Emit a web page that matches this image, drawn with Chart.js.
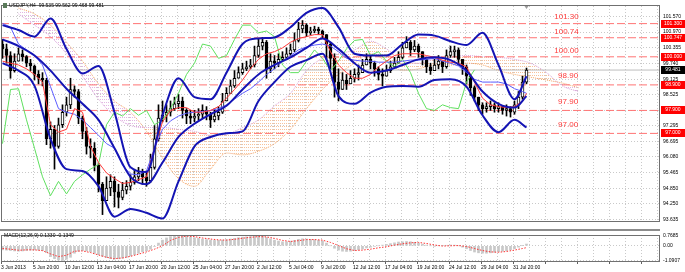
<!DOCTYPE html>
<html>
<head>
<meta charset="utf-8">
<script src="https://cdn.jsdelivr.net/npm/chart.js@4.4.0/dist/chart.umd.min.js"></script>
<style>
  html, body { margin: 0; padding: 0; background: #fff; }
  #wrap { position: relative; width: 685px; height: 272px; overflow: hidden; background: #fff; }
  #priceChart { position: absolute; left: 0; top: 0; width: 685px; height: 228px; }
  #macdChart { position: absolute; left: 0; top: 229px; width: 685px; height: 43px; }
</style>
</head>
<body>
<div id="wrap">
  <canvas id="priceChart" width="685" height="228"></canvas>
  <canvas id="macdChart" width="685" height="43"></canvas>
</div>
<script>
// USDJPY H4, one slot = two H4 bars
const dateLabels = ["3 Jun 2013", "5 Jun 20:00", "10 Jun 12:00", "13 Jun 04:00", "17 Jun 20:00", "20 Jun 12:00",
  "25 Jun 04:00", "27 Jun 20:00", "2 Jul 12:00", "5 Jul 04:00", "9 Jul 20:00", "12 Jul 12:00",
  "17 Jul 04:00", "19 Jul 20:00", "24 Jul 12:00", "29 Jul 04:00", "31 Jul 20:00"];
const priceTicks = [101.570, 100.970, 100.355, 99.740, 99.125, 98.525, 97.910, 97.295, 96.695, 96.080, 95.465, 94.850, 94.250, 93.635];
const macdTicks = [0.7685, 0, -1.0907];
const levels = [101.30, 100.747, 100.00, 98.90, 97.90, 97.00];
const levelNames = ["101.30", "100.74", "100.00", "98.90", "97.90", "97.00"];
const lastPrice = 99.481;
const headerText = "USDJPY,H4  99.535 99.562 99.468 99.481";
const macdText = "MACD(12,26,9) 0.1330 -0.1349";

const firstOpen = 100.50;
const close = [100.31, 100.05, 99.46, 99.83, 100.12, 100.01, 99.75, 99.64, 99.31, 99.16,
  99.09, 96.79, 97.16, 96.49, 97.34, 97.83, 98.12, 98.72, 98.64, 97.60,
  97.08, 96.49, 96.42, 95.75, 95.01, 94.37, 94.86, 95.12, 94.71, 94.49,
  94.78, 94.93, 95.08, 95.30, 95.45, 95.30, 95.15, 95.67, 96.79, 97.60,
  97.71, 97.83, 97.97, 98.16, 98.27, 97.90, 97.68, 97.60, 97.68, 97.75,
  97.90, 97.75, 97.53, 97.68, 97.83, 98.27, 98.57, 98.86, 99.16, 99.38,
  99.53, 99.61, 99.68, 100.05, 100.42, 100.57, 99.53, 99.83, 99.75, 99.90,
  99.98, 100.12, 100.27, 100.64, 101.09, 101.24, 100.94, 101.01, 101.09, 101.01,
  100.87, 100.50, 99.94, 99.01, 98.72, 99.09, 98.94, 99.16, 99.31, 99.38,
  99.68, 99.90, 99.75, 99.53, 99.31, 99.24, 99.46, 99.61, 99.75, 99.98,
  100.35, 100.57, 100.27, 100.42, 100.20, 99.90, 99.61, 99.46, 99.68, 99.83,
  99.61, 100.05, 100.20, 100.27, 99.90, 99.61, 99.24, 98.79, 98.42, 98.12,
  97.97, 98.05, 98.12, 97.97, 98.05, 97.90, 97.97, 97.83, 98.12, 98.42,
  99.01, 99.48];
const high = [100.68, 100.50, 100.20, 100.12, 100.35, 100.27, 100.05, 99.90, 99.68, 99.46,
  99.38, 99.16, 97.45, 97.31, 97.60, 98.12, 98.42, 99.16, 98.86, 98.72,
  97.68, 97.23, 96.79, 96.64, 95.82, 95.08, 95.30, 95.38, 95.30, 95.01,
  95.08, 95.15, 95.38, 95.60, 95.67, 95.60, 95.53, 96.19, 97.31, 98.12,
  98.27, 98.12, 98.27, 98.42, 98.53, 98.42, 97.97, 97.90, 97.90, 97.97,
  98.12, 98.05, 97.83, 97.97, 98.05, 98.57, 98.79, 99.09, 99.46, 99.61,
  99.75, 99.83, 99.90, 100.42, 100.72, 100.76, 100.64, 100.12, 100.05, 100.12,
  100.20, 100.35, 100.50, 100.94, 101.35, 101.42, 101.30, 101.16, 101.20, 101.16,
  101.05, 100.87, 100.57, 100.12, 99.53, 99.38, 99.31, 99.46, 99.53, 99.68,
  99.90, 100.12, 100.05, 99.83, 99.61, 99.53, 99.68, 99.83, 99.98, 100.20,
  100.57, 100.79, 100.64, 100.64, 100.50, 100.20, 99.90, 99.75, 99.90, 100.05,
  99.83, 100.27, 100.42, 100.42, 100.35, 99.90, 99.68, 99.30, 98.86, 98.42,
  98.20, 98.20, 98.27, 98.20, 98.20, 98.05, 98.12, 98.05, 98.27, 98.64,
  99.24, 99.56];
const low = [99.94, 99.75, 99.16, 99.40, 99.83, 99.83, 99.61, 99.46, 99.09, 98.94,
  98.86, 96.56, 96.42, 95.60, 96.42, 97.23, 97.68, 97.97, 98.42, 97.38,
  96.79, 96.19, 96.04, 95.53, 94.71, 93.82, 94.37, 94.56, 94.12, 94.08,
  94.40, 94.63, 94.78, 95.01, 95.15, 95.01, 94.93, 95.08, 95.60, 96.70,
  97.45, 97.45, 97.68, 97.90, 97.97, 97.60, 97.38, 97.38, 97.45, 97.53,
  97.60, 97.53, 97.23, 97.45, 97.53, 97.78, 98.27, 98.57, 98.80, 99.16,
  99.31, 99.46, 99.53, 99.60, 99.98, 100.27, 99.16, 99.38, 99.53, 99.61,
  99.83, 99.90, 100.05, 100.20, 100.58, 100.94, 100.79, 100.87, 100.94, 100.87,
  100.72, 99.90, 99.53, 98.42, 98.27, 98.72, 98.72, 98.94, 99.01, 99.09,
  99.38, 99.68, 99.53, 99.24, 99.09, 98.86, 99.24, 99.38, 99.61, 99.75,
  99.92, 100.35, 100.05, 100.20, 99.98, 99.68, 99.38, 99.31, 99.46, 99.53,
  99.38, 99.55, 99.98, 99.98, 99.68, 99.31, 98.94, 98.49, 98.27, 97.90,
  97.75, 97.83, 97.90, 97.83, 97.83, 97.75, 97.68, 97.64, 97.75, 97.97,
  98.34, 98.94];

// bands, every 4th slot
const bbUpper = [101.24, 101.05, 100.79, 101.50, 100.31, 99.35, 99.64, 97.83, 95.67, 95.49,
  97.71, 99.16, 98.42, 98.34, 99.38, 100.50, 100.72, 100.76, 101.16, 101.72,
  101.91, 101.16, 100.12, 100.05, 100.05, 100.50, 100.87, 100.83, 100.61, 100.46,
  100.94, 99.68, 98.34, 99.24];
const bbMiddle = [100.68, 100.42, 100.05, 99.46, 98.75, 98.16, 97.53, 96.42, 95.30, 95.01,
  95.86, 96.86, 97.38, 97.75, 98.08, 98.72, 99.31, 99.68, 99.98, 100.35,
  100.72, 100.31, 99.75, 99.38, 99.46, 99.68, 99.90, 99.98, 99.87, 99.46,
  98.64, 98.16, 98.01, 98.46];
const bbLower = [99.75, 99.46, 98.86, 96.79, 95.60, 95.53, 94.93, 93.74, 94.04, 93.89,
  93.67, 95.12, 96.49, 96.86, 97.01, 97.08, 98.27, 99.01, 99.61, 99.87,
  100.12, 98.46, 98.16, 98.60, 98.83, 98.86, 98.83, 99.09, 99.12, 98.83,
  97.71, 97.05, 97.53, 97.23];

// ichimoku, every 2nd slot (cloud every 4th, runs 13 slots ahead)
const kijun = [101.31, 101.16, 100.50, 100.27, 100.05, 99.68, 98.83, 97.97, 97.83, 97.75,
  97.53, 97.23, 96.93, 96.60, 96.42, 95.75, 95.41, 95.38, 95.53, 96.42,
  97.16, 97.49, 97.68, 97.79, 97.83, 97.86, 97.90, 97.97, 98.12, 98.34,
  98.57, 98.75, 99.01, 99.31, 99.53, 99.83, 100.05, 100.27, 100.39, 100.46,
  100.50, 100.42, 100.20, 99.94, 99.87, 99.83, 99.83, 99.79, 99.79, 99.79,
  99.83, 99.87, 99.87, 99.90, 99.94, 99.83, 99.75, 99.64, 99.38, 99.12,
  99.01, 99.01, 99.01, 98.94, 98.75, 98.64, 98.57];
const tenkan = [99.83, 99.75, 99.68, 99.53, 99.31, 99.01, 97.34, 97.05, 97.16, 97.97,
  97.83, 96.49, 95.86, 95.45, 95.23, 95.04, 95.08, 95.19, 95.30, 96.42,
  97.45, 97.90, 98.01, 98.01, 97.83, 97.83, 97.90, 98.05, 98.38, 98.72,
  99.09, 99.53, 99.90, 100.12, 100.20, 100.35, 100.57, 100.72, 100.79, 100.87,
  100.87, 100.20, 99.68, 99.38, 99.16, 99.16, 99.31, 99.61, 99.83, 100.05,
  100.12, 100.12, 100.12, 100.05, 99.98, 99.87, 99.79, 99.75, 99.61, 99.01,
  98.38, 98.12, 98.05, 98.01, 98.05, 98.27, 98.57];
const chikou = [96.60, 98.72, 98.75, 97.53, 96.42, 95.30, 94.56, 95.12, 94.63, 95.12,
  95.38, 95.60, 95.78, 97.34, 97.83, 97.68, 97.97, 97.71, 97.90, 97.34,
  97.53, 97.97, 98.57, 99.31, 99.75, 100.50, 100.42, 99.94, 100.05, 100.68,
  101.24, 101.24, 100.94, 101.01, 100.79, 99.68, 99.38, 99.38, 99.83, 100.27,
  99.94, 99.46, 99.83, 100.31, 100.64, 100.68, 100.05, 100.20, 99.83, 99.61,
  99.90, 99.38, 98.57, 97.97, 97.90, 98.12, 98.01, 97.97, 99.01, 99.49];
const spanA = [null, 101.91, 101.68, 101.24, 100.57, 99.83, 98.94, 98.27, 97.83, 97.08,
  96.04, 95.23, 94.93, 95.60, 96.23, 96.16, 96.30, 96.60, 97.16, 97.97,
  98.72, 99.31, 99.75, 100.12, 99.83, 99.46, 99.53, 99.68, 99.68, 99.75,
  99.68, 99.46, 99.31, 99.20, 99.09, 98.97, 98.79];
const spanB = [null, 101.68, 101.24, 100.79, 100.12, 99.23, 98.34, 97.68, 97.31, 97.23,
  97.23, 97.16, 97.08, 96.93, 96.97, 97.23, 97.53, 98.08, 98.57, 99.46,
  99.94, 100.12, 100.27, 100.61, 100.31, 99.83, 99.75, 99.90, 99.98, 100.05,
  100.01, 99.98, 99.90, 99.75, 99.38, 98.86, 98.64];

// MACD(12,26,9)
const macdMain = [-0.30, -0.32, -0.35, -0.38, -0.40, -0.38, -0.35, -0.32, -0.30, -0.32,
  -0.36, -0.50, -0.80, -0.95, -1.05, -1.09, -1.00, -0.85, -0.55, -0.40,
  -0.35, -0.38, -0.45, -0.55, -0.65, -0.78, -0.88, -0.95, -0.98, -0.96,
  -0.92, -0.85, -0.75, -0.65, -0.55, -0.45, -0.38, -0.25, -0.05, 0.20,
  0.42, 0.58, 0.68, 0.74, 0.77, 0.76, 0.72, 0.66, 0.60, 0.55,
  0.50, 0.46, 0.42, 0.40, 0.40, 0.42, 0.46, 0.50, 0.55, 0.60,
  0.64, 0.66, 0.68, 0.70, 0.72, 0.70, 0.62, 0.52, 0.42, 0.35,
  0.30, 0.30, 0.34, 0.40, 0.48, 0.52, 0.50, 0.48, 0.46, 0.42,
  0.36, 0.20, 0.00, -0.18, -0.32, -0.40, -0.42, -0.40, -0.36, -0.30,
  -0.24, -0.16, -0.10, -0.04, 0.00, 0.05, 0.10, 0.16, 0.22, 0.28,
  0.30, 0.32, 0.30, 0.26, 0.20, 0.12, 0.05, 0.00, -0.02, 0.00,
  0.02, 0.04, 0.06, 0.05, 0.00, -0.10, -0.22, -0.35, -0.46, -0.52,
  -0.55, -0.55, -0.52, -0.48, -0.44, -0.40, -0.36, -0.30, -0.22, -0.10,
  0.02, 0.13];
const macdSignal = [-0.20, -0.25, -0.33, -0.30, -0.30, -0.36, -0.60, -0.80, -0.70, -0.40,
  -0.38, -0.50, -0.68, -0.85, -0.95, -0.90, -0.78, -0.62, -0.45, -0.25,
  0.00, 0.40, 0.62, 0.72, 0.68, 0.58, 0.50, 0.44, 0.42, 0.48,
  0.56, 0.63, 0.68, 0.66, 0.55, 0.40, 0.32, 0.38, 0.46, 0.46,
  0.42, 0.25, 0.02, -0.22, -0.35, -0.32, -0.25, -0.15, -0.07, 0.05,
  0.15, 0.22, 0.25, 0.17, 0.06, -0.02, 0.00, 0.02, -0.05, -0.20,
  -0.35, -0.45, -0.48, -0.42, -0.32, -0.20, -0.135];

const lastIdx = close.length - 1;
const X_MIN = -0.375, X_MAX = 164.375;
const gridIdx = Array.from({ length: 42 }, (_, k) => X_MIN + 4 * k);
const FONT = "Liberation Sans";

// place a stepped series on the slot index (last value sits on the last bar)
function at(arr, step, endAt) {
  return arr.map((v, k) => ({ x: (endAt !== undefined && k === arr.length - 1) ? endAt : k * step, y: v }));
}
// candle open = previous slot close
const open = close.map((c, i) => i === 0 ? firstOpen : close[i - 1]);

function dotFill(color) {
  const c = document.createElement("canvas");
  c.width = 2; c.height = 3;
  const g = c.getContext("2d");
  g.fillStyle = color;
  g.fillRect(0, 0, 1, 1);
  return g.createPattern(c, "repeat");
}

function lineSet(data, color, width, extra) {
  return Object.assign({ type: "line", data, borderColor: color, borderWidth: width, pointRadius: 0, fill: false }, extra || {});
}

const levelSets = levels.map(v => lineSet([{ x: X_MIN, y: v }, { x: X_MAX, y: v }], "#ff7474", 1, { borderDash: [8, 3], order: 25 }));

const priceOverlay = {
  id: "priceOverlay",
  afterDraw(chart) {
    const { ctx, chartArea: a, scales: { x, y } } = chart;
    ctx.save();
    ctx.strokeStyle = "#707070";
    ctx.lineWidth = 1;
    ctx.strokeRect(a.left + 0.5, a.top - 0.5, a.right - a.left - 1, a.bottom - a.top);
    // header
    ctx.fillStyle = "#5a7a5a";
    ctx.fillRect(3, 3, 4, 5);
    ctx.fillStyle = "#000";
    ctx.font = "5px " + FONT;
    ctx.textBaseline = "middle";
    ctx.textAlign = "left";
    ctx.fillText(headerText, 9, 6);
    // level names
    const lift = [6.5, 6, 6, 9, 9, 8.5];
    ctx.font = "8px " + FONT;
    ctx.fillStyle = "#ff3c3c";
    ctx.textAlign = "center";
    levels.forEach((v, i) => {
      ctx.fillText(levelNames[i], x.getPixelForValue(141 + (i > 2 ? 0.4 : 0)), y.getPixelForValue(v) - lift[i]);
    });
    // price boxes on the axis
    ctx.font = "5px " + FONT;
    levels.forEach(v => {
      const py = Math.round(y.getPixelForValue(v));
      ctx.fillStyle = "#ff0000";
      ctx.fillRect(a.right + 1, py - 4, 24, 8);
      ctx.fillStyle = "#fff";
      ctx.fillText(v.toFixed(3), a.right + 13, py);
    });
    const lp = Math.round(y.getPixelForValue(lastPrice));
    ctx.fillStyle = "#000";
    ctx.fillRect(a.right + 1, lp - 4, 24, 8);
    ctx.fillStyle = "#fff";
    ctx.fillText(lastPrice.toFixed(3), a.right + 13, lp);
    // shift marker
    const mx = x.getPixelForValue(lastIdx);
    ctx.fillStyle = "#9a9a9a";
    ctx.beginPath();
    ctx.moveTo(mx - 2, a.top);
    ctx.lineTo(mx + 2, a.top);
    ctx.lineTo(mx, a.top + 3);
    ctx.fill();
    ctx.restore();
  }
};

new Chart(document.getElementById("priceChart"), {
  type: "bar",
  data: {
    datasets: [
      lineSet(at(spanA, 4), "#f4a460", 1, { borderDash: [1, 1], cubicInterpolationMode: "monotone", order: 30 }),
      lineSet(at(spanB, 4), "#d8a0d8", 1, {
        borderDash: [1, 1], cubicInterpolationMode: "monotone", order: 29,
        fill: { target: "-1", above: dotFill("#f7c29a"), below: dotFill("#e2b6e2") }
      }),
      ...levelSets,
      lineSet([{ x: X_MIN, y: lastPrice }, { x: X_MAX, y: lastPrice }], "#bdbdbd", 1, { order: 24 }),
      {
        label: "wick", data: close.map((c, i) => ({ x: i, y: [low[i], high[i]] })),
        backgroundColor: "#000", barThickness: 1, grouped: false, order: 11
      },
      {
        label: "body", data: close.map((c, i) => ({ x: i, y: [open[i], c] })),
        backgroundColor: close.map((c, i) => c >= open[i] ? "#ffffff" : "#000000"),
        borderColor: "#000", borderWidth: 1, borderSkipped: false, minBarLength: 1,
        barThickness: 3, grouped: false, order: 10
      },
      lineSet(at(chikou, 2), "#5fe05f", 1, { order: 6 }),
      lineSet(at(kijun, 2, lastIdx), "#5c5cff", 1, { order: 5 }),
      lineSet(at(tenkan, 2, lastIdx), "#ff3a3a", 1, { order: 4 }),
      lineSet(at(bbUpper, 4, lastIdx), "#1414b4", 2, { cubicInterpolationMode: "monotone", order: 3 }),
      lineSet(at(bbMiddle, 4, lastIdx), "#1414b4", 2, { cubicInterpolationMode: "monotone", order: 2 }),
      lineSet(at(bbLower, 4, lastIdx), "#1414b4", 2, { cubicInterpolationMode: "monotone", order: 1 })
    ]
  },
  options: {
    responsive: false,
    animation: false,
    events: [],
    layout: { padding: { left: 1, top: 1, right: 0, bottom: 0 } },
    plugins: { legend: { display: false }, tooltip: { enabled: false } },
    scales: {
      x: {
        type: "linear", min: X_MIN, max: X_MAX, offset: false,
        grid: { color: "#c9c9c9", drawTicks: false, offset: false },
        border: { display: false, dash: [1, 2] },
        ticks: { display: false },
        afterBuildTicks: s => { s.ticks = gridIdx.map(v => ({ value: v })); },
        afterFit: s => { s.height = 0; }
      },
      y: {
        position: "right", min: 93.53, max: 101.99,
        grid: { color: "#c9c9c9", drawTicks: false },
        border: { display: false, dash: [1, 2] },
        ticks: { color: "#000", padding: 3, font: { size: 5, family: FONT }, callback: v => v.toFixed(3) },
        afterBuildTicks: s => { s.ticks = priceTicks.map(v => ({ value: v })); },
        afterFit: s => { s.width = 25; }
      }
    }
  },
  plugins: [priceOverlay]
});

const macdOverlay = {
  id: "macdOverlay",
  afterDraw(chart) {
    const { ctx, chartArea: a } = chart;
    ctx.save();
    ctx.fillStyle = "#8c8c8c";
    ctx.fillRect(0, 0, a.right, 2);
    ctx.strokeStyle = "#707070";
    ctx.lineWidth = 1;
    ctx.strokeRect(a.left + 0.5, a.top + 0.5, a.right - a.left - 1, a.bottom - a.top - 1);
    ctx.fillStyle = "#000";
    ctx.font = "5px " + FONT;
    ctx.textBaseline = "middle";
    ctx.fillText(macdText, 4, 7);
    ctx.restore();
  }
};

new Chart(document.getElementById("macdChart"), {
  type: "bar",
  data: {
    datasets: [
      lineSet(at(macdSignal, 2, lastIdx), "#ff3030", 1, { borderDash: [1.5, 1.5], order: 1 }),
      { data: macdMain.map((v, i) => ({ x: i, y: v })), backgroundColor: "#c8c8c8", barThickness: 2, grouped: false, order: 2 }
    ]
  },
  options: {
    responsive: false,
    animation: false,
    events: [],
    layout: { padding: { left: 1, top: 2, right: 0, bottom: 0 } },
    plugins: { legend: { display: false }, tooltip: { enabled: false } },
    scales: {
      x: {
        type: "linear", min: X_MIN, max: X_MAX, offset: false,
        grid: {
          color: "#c9c9c9", offset: false, tickLength: 2,
          tickColor: c => c.index % 2 === 0 ? "#606060" : "rgba(0,0,0,0)"
        },
        border: { display: false, dash: [1, 2] },
        ticks: {
          color: "#000", align: "start", padding: 1, maxRotation: 0, autoSkip: false,
          font: { size: 5, family: FONT },
          callback: (v, i) => (i % 2 === 0 && dateLabels[i / 2]) || ""
        },
        afterBuildTicks: s => { s.ticks = gridIdx.map(v => ({ value: v })); },
        afterFit: s => { s.height = 10; }
      },
      y: {
        position: "right", min: -1.2, max: 0.8,
        grid: { color: "#c9c9c9", drawTicks: false },
        border: { display: false, dash: [1, 2] },
        ticks: { color: "#000", padding: 3, font: { size: 5, family: FONT }, callback: v => v === 0 ? "0.00" : String(v) },
        afterBuildTicks: s => { s.ticks = macdTicks.map(v => ({ value: v })); },
        afterFit: s => { s.width = 25; }
      }
    }
  },
  plugins: [macdOverlay]
});
</script>
</body>
</html>
